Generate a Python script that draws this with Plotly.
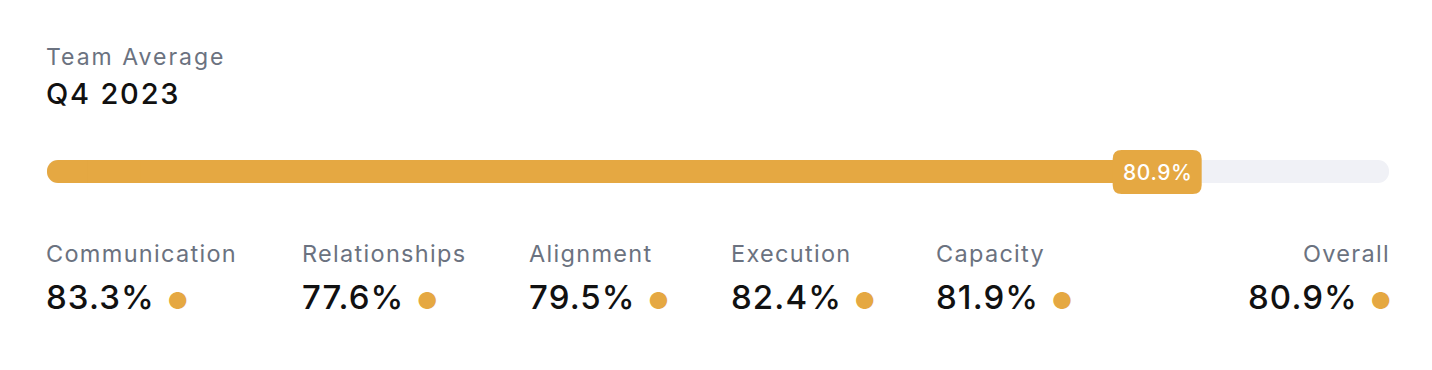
import plotly.graph_objects as go

# ---- data ----
title_small = "Team Average"
title_big = "Q4 2023"
overall_value = 80.9
categories = ["Communication", "Relationships", "Alignment", "Execution", "Capacity", "Overall"]
values = [83.3, 77.6, 79.5, 82.4, 81.9, 80.9]

# ---- layout constants (pixels) ----
W, H = 1432, 370
TRACK_L, TRACK_R = 47, 1389
BAR_Y, BAR_H = 171.5, 23
col_x = [47, 303, 530, 732, 937, 1389]
GOLD = "#e5a842"
TRACK = "#f0f1f6"
GRAY = "#6b7280"
BLACK = "#111111"
FONT = "Inter, Roboto, sans-serif"

px_per_unit = (TRACK_R - TRACK_L) / 100.0
SPLIT = 5   # bars drawn as two halves so both ends get rounded
JOIN = 2    # half-width of the square filler covering the joint


def spaced(text, sp):
    return f"<span style='letter-spacing:{sp}px'>{text}</span>"


fig = go.Figure()
for total, color in [(100, TRACK), (overall_value, GOLD)]:
    fig.add_trace(go.Bar(x=[total - SPLIT, -SPLIT], y=[BAR_Y, BAR_Y], base=[SPLIT, SPLIT],
                         width=BAR_H, orientation="h",
                         marker=dict(color=color, cornerradius=11, line=dict(width=0)),
                         hoverinfo="skip", showlegend=False))
    fig.add_trace(go.Bar(x=[2 * JOIN], y=[BAR_Y], base=[SPLIT - JOIN],
                         width=BAR_H, orientation="h",
                         marker=dict(color=color, cornerradius=0, line=dict(width=0)),
                         hoverinfo="skip", showlegend=False))

# label box at end of fill
box_cx = overall_value + 24.5 / px_per_unit
hw = 44.5 / px_per_unit
rx = 9 / px_per_unit
y0, y1, ry = 150, 194, 9
x0, x1 = box_cx - hw, box_cx + hw
path = (f"M {x0+rx},{y0} L {x1-rx},{y0} Q {x1},{y0} {x1},{y0+ry} "
        f"L {x1},{y1-ry} Q {x1},{y1} {x1-rx},{y1} L {x0+rx},{y1} "
        f"Q {x0},{y1} {x0},{y1-ry} L {x0},{y0+ry} Q {x0},{y0} {x0+rx},{y0} Z")
fig.add_shape(type="path", path=path, xref="x", yref="y", fillcolor=GOLD,
              line=dict(width=0), layer="above")
fig.add_annotation(x=box_cx, y=(y0 + y1) / 2, xref="x", yref="y",
                   text=spaced(f"{overall_value:.1f}%", 0.6), showarrow=False,
                   font=dict(family=FONT, size=21, color="white", weight=500),
                   xanchor="center", yanchor="middle")


def px(xp):
    return xp / W


fig.add_annotation(x=px(47), y=57, xref="paper", yref="y", text=spaced(title_small, 2.0),
                   showarrow=False, xanchor="left", yanchor="middle", xshift=-3,
                   font=dict(family=FONT, size=23, color=GRAY))
fig.add_annotation(x=px(47), y=93, xref="paper", yref="y", text=spaced(title_big, 1.8),
                   showarrow=False, xanchor="left", yanchor="middle", xshift=-3,
                   font=dict(family=FONT, size=29, color=BLACK, weight=500))

for i, (c, v) in enumerate(zip(categories, values)):
    last = i == len(categories) - 1
    anchor = "right" if last else "left"
    shift = 3 if last else -3
    fig.add_annotation(x=px(col_x[i]), y=253, xref="paper", yref="y", text=spaced(c, 1.3),
                       showarrow=False, xanchor=anchor, yanchor="middle", xshift=shift,
                       font=dict(family=FONT, size=23.5, color=GRAY))
    fig.add_annotation(x=px(col_x[i]), y=297, xref="paper", yref="y",
                       text=spaced(f"{v:.1f}%", 1.1)
                       + f"<span style='font-size:23px;color:{GOLD}'>  ●</span>",
                       showarrow=False, xanchor=anchor, yanchor="middle",
                       xshift=shift + (1 if last else 0),
                       font=dict(family=FONT, size=33, color=BLACK, weight=500))

fig.update_layout(
    width=W, height=H, margin=dict(l=0, r=0, t=0, b=0),
    paper_bgcolor="white", plot_bgcolor="white", barmode="overlay",
    xaxis=dict(domain=[TRACK_L / W, TRACK_R / W], range=[0, 100], visible=False, fixedrange=True),
    yaxis=dict(range=[H, 0], visible=False, fixedrange=True),
    showlegend=False,
)
fig.write_html("out.html", config={"displayModeBar": False})
